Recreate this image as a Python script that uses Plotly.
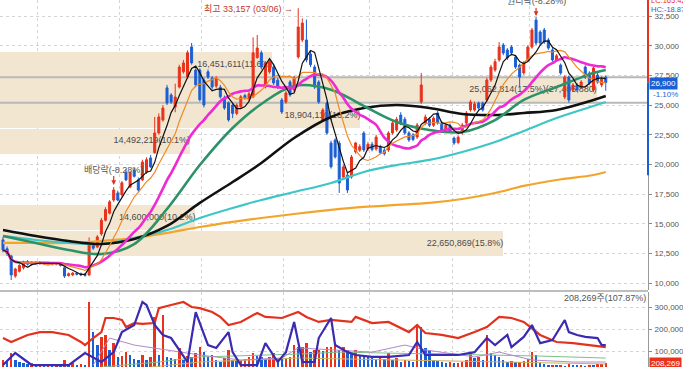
import plotly.graph_objects as go
import pandas as pd

RED = '#e8321c'
BLUE = '#1c5fd4'
TAN = '#f3e6d1'
FONT = 'Liberation Sans, Arial, Noto Sans CJK KR, sans-serif'

# ---------------- price candles ----------------
opens = [13650, 12900, 12300, 10600, 11000, 11300, 11800, 11600, 11750, 11650,
         11750, 11650, 11700, 11600, 11650, 11300, 10650, 10700, 10850, 10800,
         10750, 10700, 13250, 13050, 14150, 15300, 15900, 17000, 17600, 17450,
         19350, 18100, 19500, 18700, 18700, 19350, 20550, 21000, 22650, 23740,
         26450, 25850, 24840, 26520, 27800, 27370, 29900, 27950, 27950, 27110,
         27800, 27280, 26600, 26500, 25600, 25200, 25000, 24300, 24850, 25800,
         25500, 25700, 29000, 29400, 26520, 27800, 28200, 27100, 25430, 25260,
         26940, 26270, 29050, 30480, 30480, 29300, 28200, 26940, 23740, 25170,
         21800, 22060, 21800, 18940, 19100, 18940, 21050, 21200, 22650, 21300,
         21700, 21300, 21500, 21200, 21220, 22650, 22900, 24160, 23800, 22650,
         22500, 22310, 25260, 23490, 23800, 23300, 24330, 23500, 22900, 23300,
         22220, 21850, 22650, 23490, 24590, 24590, 25170, 25170, 25430, 27110,
         27950, 28800, 30060, 29640, 29890, 29050, 28370, 27700, 28800, 29890,
         32160, 31150, 31320, 30480, 29640, 28800, 28370, 25680, 27360, 26270,
         26690, 26520, 28200, 27700, 26270, 27530, 26700, 27360]
highs = [13900, 13100, 12400, 11300, 11600, 11900, 11950, 11850, 11850, 11850,
         11800, 11800, 11780, 11780, 11700, 11400, 10900, 10950, 10950, 10900,
         10850, 13850, 13500, 14050, 15500, 16400, 17000, 18100, 17800, 18600,
         19600, 19450, 19700, 18900, 20400, 20600, 20800, 24000, 24300, 25000,
         26700, 26000, 26800, 28400, 28800, 29600, 30230, 28100, 28100, 27300,
         28000, 27450, 27450, 26700, 25800, 25300, 25150, 25150, 25850, 25950,
         26100, 30700, 30900, 29600, 28700, 28900, 28400, 27300, 25600, 26200,
         27100, 27450, 33157, 32300, 32200, 29600, 28400, 27100, 24750, 25300,
         22000, 22200, 22000, 19950, 19300, 20800, 21900, 21700, 22800, 21900,
         21900, 22500, 21650, 21400, 22800, 23650, 24000, 24400, 24000, 22800,
         22650, 23500, 27700, 24200, 24000, 24050, 24500, 23650, 23450, 23450,
         22350, 22450, 23500, 24500, 25450, 25300, 25300, 25300, 27300, 28400,
         28900, 30300, 30230, 29800, 30050, 29200, 28500, 28700, 30050, 31500,
         32420, 31300, 31500, 30650, 29800, 29300, 28500, 27500, 27500, 26850,
         26850, 27100, 28350, 27850, 28300, 27700, 27400, 27500]
lows = [12600, 12300, 10270, 10450, 10900, 11150, 11500, 11500, 11550, 11550,
        11550, 11550, 11500, 11500, 11400, 10450, 10550, 10600, 10650, 10600,
        10550, 10600, 12800, 12950, 14000, 15200, 15800, 16850, 16900, 17300,
        18600, 18000, 18900, 17700, 18600, 19200, 19700, 20900, 22500, 23600,
        25000, 25100, 24400, 26400, 27650, 27200, 28400, 26500, 25300, 24800,
        27200, 26300, 26450, 25550, 24600, 23600, 23900, 24150, 24700, 25450,
        25350, 25600, 28900, 28000, 26400, 27650, 26700, 26350, 24250, 25100,
        25700, 26100, 28900, 30300, 28600, 28200, 26350, 25100, 23600, 22500,
        19650, 20500, 17600, 18800, 17600, 18800, 20900, 21050, 21050, 21150,
        21100, 21150, 20850, 20750, 21050, 22500, 22750, 23300, 22500, 21900,
        21950, 22150, 25100, 23300, 23150, 23150, 23350, 22750, 22750, 22650,
        21650, 21700, 22500, 23350, 24450, 24450, 24600, 24450, 25300, 26950,
        27800, 28650, 29200, 28800, 29200, 28050, 26500, 27550, 28650, 29750,
        30050, 30050, 30150, 29650, 28650, 28650, 27550, 25500, 25200, 26100,
        26100, 26350, 27200, 26700, 26100, 26800, 26500, 26200]
closes = [12800, 12500, 10700, 11200, 11500, 11750, 11600, 11750, 11650, 11750,
          11650, 11700, 11600, 11700, 11500, 10600, 10800, 10850, 10750, 10700,
          10650, 13400, 12950, 13900, 15300, 16200, 16850, 17850, 17000, 18450,
          18700, 19300, 19000, 17850, 20200, 20400, 19800, 22650, 24000, 24750,
          25170, 25260, 25680, 28200, 28550, 29400, 28550, 26700, 25450, 25000,
          27350, 26520, 27280, 25700, 24750, 23750, 24300, 25000, 25700, 25600,
          25950, 29400, 29800, 28200, 28540, 28650, 26860, 26500, 24420, 26020,
          25850, 27280, 31570, 31900, 28800, 28400, 26520, 25260, 24590, 22650,
          19800, 20630, 18440, 19785, 17850, 20630, 21810, 21500, 21220, 21700,
          21250, 22300, 21000, 20900, 22650, 23490, 23800, 23490, 22650, 22060,
          22100, 23320, 26690, 24000, 23300, 23900, 23490, 22900, 23300, 22800,
          21800, 22300, 23320, 24330, 25260, 25100, 24750, 24590, 27110, 28200,
          28650, 29890, 29385, 28970, 29385, 28200, 27360, 28540, 29890, 31320,
          30230, 30230, 30310, 29800, 28800, 29150, 27700, 27360, 25430, 26690,
          26270, 26940, 27360, 26860, 28120, 26940, 27200, 26900]
idx = list(range(len(closes)))

volumes = [300000, 250000, 506000, 300000, 238000, 200000, 180000, 210000, 170000, 190000,
           160000, 180000, 150000, 170000, 140000, 300000, 180000, 200000, 150000, 170000,
           140000, 2020000, 1130000, 744000, 982000, 1040000, 595000, 803000, 387000, 420000,
           536000, 446000, 330000, 298000, 446000, 298000, 400000, 1580000, 446000, 1640000,
           387000, 357000, 340000, 655000, 298000, 420000, 380000, 500000, 684000, 536000,
           380000, 446000, 300000, 238000, 350000, 595000, 298000, 280000, 300000, 330000,
           387000, 506000, 420000, 387000, 330000, 380000, 506000, 357000, 340000, 357000,
           380000, 744000, 684000, 684000, 803000, 536000, 595000, 595000, 560000, 684000,
           684000, 744000, 595000, 684000, 595000, 520000, 595000, 446000, 400000, 387000,
           357000, 298000, 387000, 330000, 506000, 298000, 357000, 238000, 298000, 260000,
           238000, 1340000, 1280000, 655000, 595000, 298000, 270000, 238000, 208000, 230000,
           200000, 220000, 238000, 298000, 506000, 357000, 387000, 300000, 1040000, 500000,
           446000, 387000, 298000, 238000, 260000, 230000, 250000, 280000, 330000, 536000,
           446000, 208000, 180000, 150000, 160000, 140000, 150000, 130000, 170000, 150000,
           140000, 160000, 130000, 150000, 140000, 170000, 193073, 208269]

# ---------------- long moving averages ----------------
ma_read_idx = [0, 8, 16, 24, 32, 40, 48, 56, 63, 71, 80, 88, 96, 104, 112, 120, 127, 135, 144, 147]
ma_green = [13980, 13390, 12800, 12460, 13300, 16250, 19950, 23070, 25090, 26610,
            26300, 24920, 23580, 22900, 22730, 23740, 25430, 26520, 27700, 27950]
ma_black_long = [14480, 13980, 13560, 13300, 13720, 14820, 16760, 18520, 20120, 22230,
                 24000, 24750, 25010, 24750, 24250, 24160, 24330, 24590, 25430, 25760]
ma_cyan = [13980, 13640, 13390, 13300, 13810, 14480, 15490, 16330, 17010, 17680,
           18440, 19370, 19950, 20380, 21050, 21890, 22820, 23910, 24920, 25260]
ma_gold = [13390, 13390, 13390, 13560, 13810, 14230, 14730, 15160, 15490, 15830,
           16170, 16420, 16590, 16760, 17090, 17600, 18190, 18690, 19110, 19370]

# ---------------- volume panel lines ----------------
vred_idx = [0, 2, 6, 9, 12, 16, 19, 20, 22, 24, 25, 27, 29, 30, 32, 34, 37, 38, 41, 44,
            46, 48, 51, 53, 55, 58, 62, 64, 68, 72, 74, 77, 80, 85, 86, 90, 94, 99, 101, 103,
            107, 111, 115, 118, 121, 124, 127, 131, 135, 139, 143, 147]
vred_val = [159000, 141000, 173000, 186000, 186000, 173000, 141000, 127000, 159000, 186000,
            250000, 250000, 241000, 209000, 227000, 223000, 227000, 295000, 309000, 323000,
            300000, 295000, 277000, 255000, 218000, 232000, 273000, 255000, 250000, 277000,
            255000, 232000, 241000, 232000, 255000, 227000, 232000, 186000, 218000, 182000,
            173000, 159000, 186000, 209000, 255000, 250000, 232000, 173000, 141000, 136000,
            127000, 118000]
vnavy_idx = [0, 3, 6, 7, 16, 20, 24, 27, 29, 32, 34, 35, 37, 39, 41, 45, 47, 50, 52, 55,
             56, 58, 62, 64, 67, 69, 71, 73, 76, 77, 80, 81, 84, 86, 90, 94, 99, 101, 103, 107,
             111, 115, 118, 120, 123, 124, 127, 129, 131, 134, 137, 138, 140, 142, 145, 146, 147]
vnavy_val = [36000, 91000, 50000, 36000, 36000, 91000, 50000, 95000, 186000, 218000,
             323000, 309000, 218000, 173000, 159000, 50000, 277000, 127000, 114000, 186000,
             95000, 36000, 36000, 136000, 50000, 95000, 232000, 50000, 50000, 159000,
             250000, 127000, 95000, 82000, 73000, 73000, 82000, 141000, 82000, 82000,
             82000, 95000, 159000, 127000, 173000, 118000, 164000, 218000, 136000, 150000,
             241000, 186000, 173000, 164000, 159000, 127000, 127000]
vpurple_idx = [22, 26, 32, 40, 48, 58, 68, 72, 80, 90, 98, 103, 115, 121, 129, 139, 147]
vpurple_val = [36000, 159000, 127000, 105000, 82000, 59000, 68000, 114000, 105000, 95000,
               127000, 105000, 73000, 95000, 59000, 50000, 50000]
vgreen_idx = [24, 38, 48, 72, 82, 109, 131, 147]
vgreen_val = [27000, 50000, 73000, 86000, 95000, 86000, 77000, 68000]
volive_idx = [36, 48, 72, 97, 121, 147]
volive_val = [27000, 50000, 68000, 59000, 50000, 41000]

# ---------------- volume-by-price profile ----------------
profile_low = 10135
profile_step = 2150
profile_pct = [5.2, 15.8, 10.2, 3.9, 4.6, 10.1, 13.2, 17.5, 11.6, 5.5, 2.4]
profile_vol = [7447000, 22650869, 14600000, 5585000, 6588000, 14492219, 18904110,
               25062814, 16451611, 7877000, 3437000]
profile_extra = ['', '', '', '', '', '', '', '(27,405,880)', '', '', '']
current_band = 7

price_ticks = [10000, 12500, 15000, 17500, 20000, 22500, 25000, 27500, 30000, 32500]
vol_ticks = [100000, 200000, 300000]
month_grid = [8.5, 28.5, 48.5, 68.5, 89.5, 109.5, 128.5]

last_price = 26900
change_pct = -1.10
range_hi_mark = [26900, 33900]
range_lo_mark = [19100, 26900]

# ---------------- derived ----------------
s = pd.Series(closes)
ma5 = s.rolling(5, min_periods=1).mean()
ma10 = s.rolling(10, min_periods=1).mean()
ma20 = s.rolling(20, min_periods=1).mean()
vol_colors = [RED] + [RED if volumes[i] >= volumes[i - 1] else BLUE for i in range(1, len(volumes))]
band_centers = [profile_low + profile_step * (k + 0.5) for k in range(len(profile_pct))]

XDOM = 648 / 683
PRICE_BOTTOM = 1 - 290 / 367
VOL_TOP = 1 - 292 / 367
X_RANGE = [-0.73, 157.3]
PCT_RANGE = [6.645, 18.43]

fig = go.Figure()

# volume profile bars (base subplot, below candles)
fig.add_trace(go.Bar(orientation='h', y=band_centers, x=profile_pct, width=profile_step - 70,
                     marker=dict(color=TAN, line=dict(width=0)), xaxis='x', yaxis='y',
                     hoverinfo='skip'))
lab_x, lab_y, lab_t = [], [], []
for k, p in enumerate(profile_pct):
    if p >= 10:
        lab_x.append(p)
        lab_y.append(band_centers[k])
        lab_t.append(f"{profile_vol[k]:,}({p}%)" + profile_extra[k])
fig.add_trace(go.Scatter(x=lab_x, y=lab_y, text=lab_t, mode='text', textposition='middle left',
                         textfont=dict(family=FONT, size=9, color='#4a4a4a'),
                         xaxis='x', yaxis='y', hoverinfo='skip'))
for edge in [profile_low + profile_step * current_band, profile_low + profile_step * (current_band + 1)]:
    fig.add_trace(go.Scatter(x=PCT_RANGE, y=[edge, edge], mode='lines',
                             line=dict(color='#b8b8b8', width=2), xaxis='x', yaxis='y', hoverinfo='skip'))

# moving averages (overlay subplot)
fig.add_trace(go.Scatter(x=ma_read_idx, y=ma_gold, mode='lines', line=dict(color='#f2a52a', width=2.2, shape='spline'),
                         xaxis='x2', yaxis='y', hoverinfo='skip'))
fig.add_trace(go.Scatter(x=ma_read_idx, y=ma_cyan, mode='lines', line=dict(color='#3ec6c6', width=2.2, shape='spline'),
                         xaxis='x2', yaxis='y', hoverinfo='skip'))
fig.add_trace(go.Scatter(x=ma_read_idx, y=ma_black_long, mode='lines', line=dict(color='#111111', width=2.6, shape='spline'),
                         xaxis='x2', yaxis='y', hoverinfo='skip'))
fig.add_trace(go.Scatter(x=ma_read_idx, y=ma_green, mode='lines', line=dict(color='#2e9268', width=2.6, shape='spline'),
                         xaxis='x2', yaxis='y', hoverinfo='skip'))
fig.add_trace(go.Scatter(x=idx, y=ma20, mode='lines', line=dict(color='#f02ad2', width=2.6, shape='spline'),
                         xaxis='x2', yaxis='y', hoverinfo='skip'))

fig.add_trace(go.Candlestick(x=idx, open=opens, high=highs, low=lows, close=closes,
                             increasing=dict(line=dict(color=RED, width=1), fillcolor=RED),
                             decreasing=dict(line=dict(color=BLUE, width=1), fillcolor=BLUE),
                             whiskerwidth=0, xaxis='x2', yaxis='y', hoverinfo='skip'))
fig.add_trace(go.Scatter(x=idx, y=ma10, mode='lines', line=dict(color='#ef8a26', width=1.2),
                         xaxis='x2', yaxis='y', hoverinfo='skip'))
fig.add_trace(go.Scatter(x=idx, y=ma5, mode='lines', line=dict(color='#111111', width=1.2),
                         xaxis='x2', yaxis='y', hoverinfo='skip'))

# volume panel
fig.add_trace(go.Bar(x=idx, y=volumes, marker=dict(color=vol_colors, line=dict(width=0)), width=0.6,
                     xaxis='x3', yaxis='y3', hoverinfo='skip'))
for xs, ys, col, w in [(volive_idx, volive_val, '#c9b25a', 1), (vgreen_idx, vgreen_val, '#7cbf8a', 1),
                       (vpurple_idx, vpurple_val, '#b488c8', 1),
                       (vred_idx, vred_val, '#e2321e', 2.2), (vnavy_idx, vnavy_val, '#3a2bb0', 2.2)]:
    fig.add_trace(go.Scatter(x=xs, y=ys, mode='lines', line=dict(color=col, width=w),
                             xaxis='x3', yaxis='y4', hoverinfo='skip'))

tickfont = dict(family=FONT, size=8, color='#555555')
fig.update_layout(
    width=683, height=367, margin=dict(l=0, r=0, t=0, b=0),
    paper_bgcolor='white', plot_bgcolor='white', showlegend=False, bargap=0,
    xaxis=dict(domain=[0, XDOM], anchor='y', range=PCT_RANGE, visible=False, fixedrange=True),
    xaxis2=dict(domain=[0, XDOM], anchor='y', overlaying='x', range=X_RANGE, showticklabels=False,
                tickvals=month_grid, ticks='', showgrid=True, gridcolor='#d4d4d4', griddash='dot',
                gridwidth=1, zeroline=False, rangeslider=dict(visible=False)),
    yaxis=dict(domain=[PRICE_BOTTOM, 1], anchor='x', side='right', range=[9429, 33847],
               tickvals=price_ticks, tickformat=',d', tickfont=tickfont, ticks='outside', ticklen=3,
               ticklabelstandoff=1,
               tickcolor='#888888', showline=True, linecolor='#999999', showgrid=True,
               gridcolor='#d4d4d4', griddash='dot', zeroline=False),
    xaxis3=dict(domain=[0, XDOM], anchor='y3', range=X_RANGE, showticklabels=False, tickvals=month_grid,
                ticks='', showgrid=True, gridcolor='#d4d4d4', griddash='dot', zeroline=False),
    yaxis3=dict(domain=[0, VOL_TOP], anchor='x3', range=[89000, 2320000], visible=False),
    yaxis4=dict(domain=[0, VOL_TOP], anchor='x3', overlaying='y3', side='right', range=[27300, 368200],
                tickvals=vol_ticks, tickformat=',d', tickfont=tickfont, ticks='outside', ticklen=3,
                ticklabelstandoff=1,
                tickcolor='#888888', showline=True, linecolor='#999999', showgrid=True,
                gridcolor='#d4d4d4', griddash='dot', zeroline=False),
)

# panel separator and range marks on the price axis
fig.add_shape(type='line', xref='paper', yref='paper', x0=0, x1=XDOM, y0=(PRICE_BOTTOM + VOL_TOP) / 2,
              y1=(PRICE_BOTTOM + VOL_TOP) / 2, line=dict(color='#bdbdbd', width=2))
fig.add_shape(type='line', xref='paper', yref='y', x0=XDOM, x1=XDOM, y0=range_hi_mark[0], y1=range_hi_mark[1],
              line=dict(color=RED, width=2))
fig.add_shape(type='line', xref='paper', yref='y', x0=XDOM, x1=XDOM, y0=range_lo_mark[0], y1=range_lo_mark[1],
              line=dict(color=BLUE, width=2))

hi_i = max(idx, key=lambda i: highs[i])
small = dict(family=FONT, size=8)
ann = []
ann.append(dict(x=hi_i, y=highs[hi_i], xref='x2', yref='y', text='최고 33,157 (03/06) →', showarrow=False,
                xanchor='right', yanchor='middle', xshift=-3, yshift=-1,
                font=dict(family=FONT, size=9, color='#c0392b')))
ann.append(dict(x=27, y=highs[27], xref='x2', yref='y', text='배당락(-8.28%)', showarrow=True,
                arrowhead=2, arrowsize=0.8, arrowwidth=1.2, arrowcolor='#e03020', ax=0, ay=-18, standoff=2,
                font=dict(family=FONT, size=9, color='#555555')))
ann.append(dict(x=130, y=highs[130], xref='x2', yref='y', text='권리락(-8.28%)', showarrow=True,
                arrowhead=2, arrowsize=0.8, arrowwidth=1.2, arrowcolor='#e03020', ax=0, ay=-16, standoff=1,
                font=dict(family=FONT, size=9, color='#555555')))
ann.append(dict(x=XDOM + 0.002, y=1, xref='paper', yref='paper', text='LC:165.42', showarrow=False,
                xanchor='left', yanchor='middle', font=dict(family=FONT, size=7.5, color=RED)))
ann.append(dict(x=XDOM + 0.002, y=1 - 10 / 367, xref='paper', yref='paper', text='HC:-18.87', showarrow=False,
                xanchor='left', yanchor='middle', font=dict(family=FONT, size=7.5, color=BLUE)))
ann.append(dict(x=XDOM + 0.002, y=last_price, xref='paper', yref='y', text=f'{last_price:,}', showarrow=False,
                xanchor='left', yanchor='middle', bgcolor=BLUE, borderpad=1, yshift=-1,
                font=dict(small, color='white')))
ann.append(dict(x=XDOM + 0.004, y=last_price, xref='paper', yref='y', text=f'{change_pct:.2f}%', showarrow=False,
                xanchor='left', yanchor='middle', yshift=-12, font=dict(small, color=BLUE)))
ann.append(dict(x=XDOM + 0.002, y=volumes[-1], xref='paper', yref='y3', text=f'{volumes[-1]:,}', showarrow=False,
                xanchor='left', yanchor='middle', bgcolor=RED, borderpad=1, yshift=-1,
                font=dict(small, color='white')))
ann.append(dict(x=XDOM, y=1 - 298 / 367, xref='paper', yref='paper',
                text=f'{volumes[-1]:,}주({volumes[-1] / volumes[-2] * 100:.2f}%)', showarrow=False,
                xanchor='right', yanchor='middle', font=dict(family=FONT, size=9, color='#555555')))
fig.update_layout(annotations=ann)

fig.write_html('out.html', config={'displayModeBar': False, 'staticPlot': True},
               post_script="document.body.style.margin='0';document.body.style.overflow='hidden';")
